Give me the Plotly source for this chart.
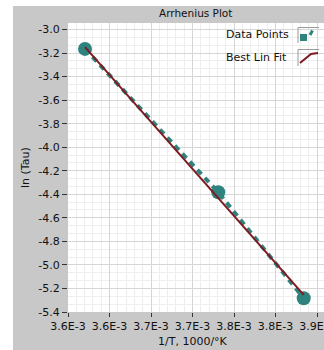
import plotly.graph_objects as go

# ---- data ----
x_data = [0.0036205, 0.003781, 0.003884]
y_data = [-3.165, -4.383, -5.283]
fit_x = [0.0036205, 0.003884]
fit_y = [-3.150, -5.254]

x_tickvals = [0.00360, 0.00365, 0.00370, 0.00375, 0.00380, 0.00385, 0.00390]
x_ticktext = ["3.6E-3", "3.6E-3", "3.7E-3", "3.7E-3", "3.8E-3", "3.8E-3", "3.9E-3"]
y_tickvals = [-3.0, -3.2, -3.4, -3.6, -3.8, -4.0, -4.2, -4.4, -4.6, -4.8, -5.0, -5.2, -5.4]
y_ticktext = ["-3.0", "-3.2", "-3.4", "-3.6", "-3.8", "-4.0", "-4.2", "-4.4", "-4.6", "-4.8", "-5.0", "-5.2", "-5.4"]

series_names = ["Data Points", "Best Lin Fit"]
title_text = "Arrhenius Plot"
x_title = "1/T, 1000/°K"
y_title = "ln (Tau)"

# ---- style ----
TEAL = "#2f837e"
RED = "#7e1a20"
PANEL = "#c8c8c8"
FONT = "DejaVu Sans"
W, H = 324, 350
L, R, T, B = 68, 0, 23, 38
PW, PH = W - L - R, H - T - B


def px(x):
    return (x - L) / PW


def py(y):
    return (H - B - y) / PH


fig = go.Figure()
fig.add_trace(go.Scatter(
    x=x_data, y=y_data, mode="lines+markers", name=series_names[0],
    line=dict(color=TEAL, width=4, dash="6px,5px"),
    marker=dict(size=14, color=TEAL),
))
fig.add_trace(go.Scatter(
    x=fit_x, y=fit_y, mode="lines", name=series_names[1],
    line=dict(color=RED, width=2),
))

shapes = [
    # white margins outside the grey panel
    dict(type="rect", xref="paper", yref="paper", x0=px(0), x1=px(13), y0=py(H), y1=py(0),
         fillcolor="white", line=dict(width=0), layer="below"),
    dict(type="rect", xref="paper", yref="paper", x0=px(0), x1=px(W), y0=py(6), y1=py(0),
         fillcolor="white", line=dict(width=0), layer="below"),
    # legend boxes (sunken frame: left + top edges)
    dict(type="path", xref="paper", yref="paper",
         path=f"M {px(298)} {py(43)} L {px(298)} {py(27.5)} L {px(319)} {py(27.5)}",
         line=dict(color="#9a9a9a", width=1)),
    dict(type="path", xref="paper", yref="paper",
         path=f"M {px(298)} {py(66)} L {px(298)} {py(49.5)} L {px(319)} {py(49.5)}",
         line=dict(color="#9a9a9a", width=1)),
    # legend icon: data points
    dict(type="rect", xref="paper", yref="paper", x0=px(300), x1=px(307), y0=py(41), y1=py(34),
         fillcolor=TEAL, line=dict(width=0)),
    dict(type="path", xref="paper", yref="paper",
         path=f"M {px(310)} {py(35)} L {px(312.5)} {py(30.5)}",
         line=dict(color=TEAL, width=3)),
    # legend icon: fit line
    dict(type="path", xref="paper", yref="paper",
         path=f"M {px(300)} {py(63)} L {px(311)} {py(54)} L {px(318)} {py(53)}",
         line=dict(color=RED, width=2)),
]

annotations = [
    dict(text=title_text, xref="paper", yref="paper", x=px(195), y=py(13),
         xanchor="center", yanchor="middle", showarrow=False,
         font=dict(family=FONT, size=10.5, color="#111")),
    dict(text=x_title, xref="paper", yref="paper", x=px(193), y=py(341),
         xanchor="center", yanchor="middle", showarrow=False,
         font=dict(family=FONT, size=11, color="#111")),
    dict(text=y_title, xref="paper", yref="paper", x=px(25), y=py(168),
         xanchor="center", yanchor="middle", showarrow=False, textangle=-90,
         font=dict(family=FONT, size=11, color="#111")),
    dict(text=series_names[0], xref="paper", yref="paper", x=px(224), y=py(35),
         xanchor="left", yanchor="middle", showarrow=False,
         font=dict(family=FONT, size=11, color="#111")),
    dict(text=series_names[1], xref="paper", yref="paper", x=px(224), y=py(58),
         xanchor="left", yanchor="middle", showarrow=False,
         font=dict(family=FONT, size=11, color="#111")),
]

x_right = 0.0036 + (W - L) / 41.5 * 0.00005

fig.update_layout(
    width=W, height=H,
    margin=dict(l=L, r=R, t=T, b=B, pad=0),
    paper_bgcolor=PANEL, plot_bgcolor="white",
    showlegend=False,
    shapes=shapes, annotations=annotations,
    font=dict(family=FONT, size=11, color="#111"),
    xaxis=dict(
        range=[0.0036, x_right], tickmode="array", tickvals=x_tickvals, ticktext=x_ticktext,
        ticks="outside", ticklen=4, tickcolor="#333", tickwidth=1,
        ticklabeloverflow="allow", automargin=False,
        showgrid=True, gridcolor="#d6d6d6", gridwidth=1, zeroline=False, showline=False,
        minor=dict(dtick=0.00001, tick0=0.0036, showgrid=True, gridcolor="#eeeeee", ticks=""),
        tickfont=dict(family=FONT, size=11, color="#111"),
    ),
    yaxis=dict(
        range=[-5.4, -2.945], tickmode="array", tickvals=y_tickvals, ticktext=y_ticktext,
        ticks="outside", ticklen=5, tickcolor="#333", tickwidth=1,
        automargin=False,
        showgrid=True, gridcolor="#d6d6d6", gridwidth=1, zeroline=False, showline=False,
        minor=dict(dtick=0.2 / 3, tick0=-5.4, showgrid=True, gridcolor="#eeeeee", ticks=""),
        tickfont=dict(family=FONT, size=11, color="#111"),
    ),
)

fig.write_html("out.html")
